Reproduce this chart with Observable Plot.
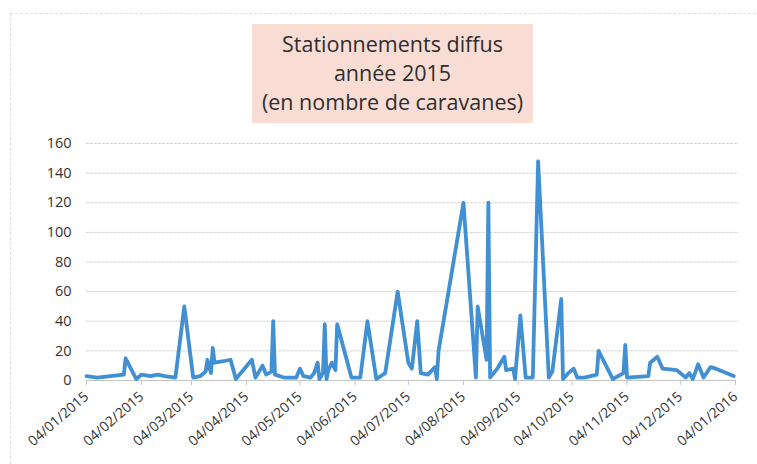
<!DOCTYPE html>
<html>
<head>
<meta charset="utf-8">
<script src="https://cdn.jsdelivr.net/npm/d3@7"></script>
<script src="https://cdn.jsdelivr.net/npm/@observablehq/plot@0.6"></script>
<style>
  html, body { margin: 0; padding: 0; background: #fff; }
  #wrap { position: relative; width: 757px; height: 464px; overflow: hidden; font-family: "Open Sans", sans-serif; }
  #frame { position: absolute; left: 10px; top: 13px; width: 760px; height: 470px;
           border-top: 1px dashed #dcdcdc; border-left: 1px dashed #dcdcdc; }
  #title { position: absolute; left: 252px; top: 24px; width: 281px; height: 99px;
           background: #f9ddd4; color: #2e2e2e; text-align: center;
           font-size: 21.5px; line-height: 29px; padding-top: 5px; box-sizing: border-box; }
  #chart { position: absolute; left: 0; top: 0; }
</style>
</head>
<body>
<div id="wrap">
  <div id="frame"></div>
  <div id="chart"></div>
  <div id="title">Stationnements diffus<br>année 2015<br>(en nombre de caravanes)</div>
</div>
<script>
// Dates (YYYY-MM-DD) and number of caravans
const dates = [
  "2015-01-04","2015-01-10","2015-01-25","2015-01-26","2015-02-01","2015-02-04","2015-02-09","2015-02-13",
  "2015-02-17","2015-02-23","2015-02-28","2015-03-05","2015-03-09","2015-03-12","2015-03-13","2015-03-15",
  "2015-03-16","2015-03-17","2015-03-22","2015-03-26","2015-03-29","2015-04-07","2015-04-09","2015-04-13",
  "2015-04-15","2015-04-18","2015-04-19","2015-04-20","2015-04-25","2015-05-02","2015-05-04","2015-05-06",
  "2015-05-10","2015-05-12","2015-05-14","2015-05-15","2015-05-17","2015-05-18","2015-05-19","2015-05-20",
  "2015-05-22","2015-05-24","2015-05-25","2015-06-02","2015-06-07","2015-06-11","2015-06-16","2015-06-21",
  "2015-06-28","2015-07-04","2015-07-06","2015-07-09","2015-07-11","2015-07-15","2015-07-19","2015-07-20",
  "2015-07-21","2015-08-04","2015-08-11","2015-08-12","2015-08-17","2015-08-18","2015-08-19","2015-08-23",
  "2015-08-27","2015-08-28","2015-09-01","2015-09-02","2015-09-05","2015-09-08","2015-09-12","2015-09-15",
  "2015-09-21","2015-09-23","2015-09-28","2015-09-29","2015-10-02","2015-10-05","2015-10-07","2015-10-11",
  "2015-10-18","2015-10-19","2015-10-27","2015-11-02","2015-11-03","2015-11-04","2015-11-16","2015-11-17",
  "2015-11-21","2015-11-24","2015-12-02","2015-12-07","2015-12-09","2015-12-11","2015-12-14","2015-12-16",
  "2015-12-17","2015-12-21","2015-12-24","2016-01-03"
];
const caravanes = [
  3, 2, 4, 15, 1, 4, 3, 4,
  3, 2, 50, 2, 3, 6, 14, 5,
  22, 12, 13, 14, 1, 14, 2, 10,
  4, 6, 40, 4, 2, 2, 8, 3,
  2, 5, 12, 1, 5, 38, 1, 7,
  12, 7, 38, 2, 2, 40, 1, 5,
  60, 12, 8, 40, 5, 4, 9, 1,
  20, 120, 2, 50, 14, 120, 2, 8,
  16, 7, 8, 1, 44, 2, 2, 148,
  2, 6, 55, 1, 5, 8, 2, 2,
  4, 20, 1, 5, 24, 2, 3, 12,
  16, 8, 7, 2, 5, 1, 11, 5,
  2, 9, 8, 3
];
const tickDates = [
  "2015-01-04","2015-02-04","2015-03-04","2015-04-04","2015-05-04","2015-06-04","2015-07-04",
  "2015-08-04","2015-09-04","2015-10-04","2015-11-04","2015-12-04","2016-01-04"
];
const yTicks = [0, 20, 40, 60, 80, 100, 120, 140, 160];

const parse = d3.utcParse("%Y-%m-%d");
const data = dates.map((d, i) => ({date: parse(d), value: caravanes[i]}));
const xTicks = tickDates.map(parse);

const chart = Plot.plot({
  width: 757,
  height: 464,
  marginTop: 143,
  marginLeft: 86,
  marginRight: 22,
  marginBottom: 84,
  style: {fontFamily: "Open Sans, sans-serif", background: "transparent", color: "#3a3a3a"},
  x: {type: "utc", domain: [parse("2015-01-04"), parse("2016-01-04")]},
  y: {domain: [0, 160]},
  marks: [
    Plot.gridY(yTicks.filter(d => d > 0), {stroke: "#d2d2d2", strokeOpacity: 1, strokeDasharray: "3,1", x1: parse("2015-01-04"), x2: parse("2016-01-06")}),
    Plot.ruleY([0], {stroke: "#c4c4c4", strokeWidth: 1}),
    Plot.axisY(yTicks, {tickSize: 0, tickPadding: 15, fontSize: 14.5, label: null, fill: "#333"}),
    Plot.axisX(xTicks, {
      tickSize: 5, stroke: "#c4c4c4", tickFormat: d3.utcFormat("%d/%m/%Y"),
      tickRotate: -41, fontSize: 14, tickPadding: 9, label: null, fill: "#333"
    }),
    Plot.line(data, {x: "date", y: "value", stroke: "#4090d3", strokeWidth: 3.8, strokeLinejoin: "round", strokeLinecap: "round"})
  ]
});
document.getElementById("chart").appendChild(chart);
</script>
</body>
</html>
